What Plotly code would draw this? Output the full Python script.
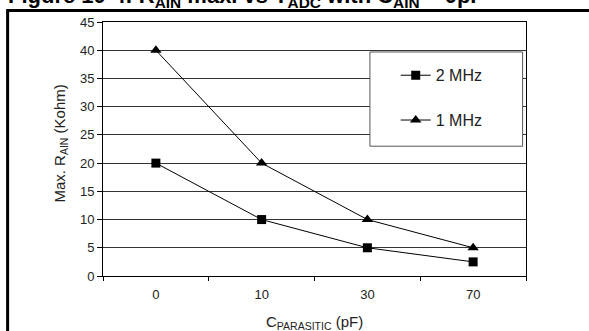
##########################################################
### Max. R_AIN vs parasitic capacitance (two ADC clocks) ###
##########################################################

import plotly.graph_objects as go

# === DATA ===
c_parasitic = ["0", "10", "30", "70"]
r_ain_2mhz = [20, 10, 5, 2.5]
r_ain_1mhz = [40, 20, 10, 5]
y_ticks = [0, 5, 10, 15, 20, 25, 30, 35, 40, 45]

FONT = "Liberation Sans, Arial, sans-serif"
TEXT_COLOR = "#222222"

fig = go.Figure()

fig.add_trace(go.Scatter(
    x=c_parasitic, y=r_ain_2mhz,
    mode="lines+markers", name="2 MHz",
    legendgroup="a",
    line=dict(color="black", width=1),
    marker=dict(symbol="square", size=9, color="black"),
))
fig.add_trace(go.Scatter(
    x=c_parasitic, y=r_ain_1mhz,
    mode="lines+markers", name="1 MHz",
    legendgroup="b",
    line=dict(color="black", width=1),
    marker=dict(symbol="triangle-up", size=10, color="black"),
))

# === Axes ===
fig.update_xaxes(
    type="category",
    range=[-0.5, 3.5],
    showline=True, linecolor="black", linewidth=1, mirror=True,
    ticks="outside", tickson="boundaries", ticklen=4, tickcolor="black",
    ticklabelstandoff=6,
    showgrid=False,
    tickfont=dict(family=FONT, size=13, color=TEXT_COLOR),
)
fig.update_yaxes(
    range=[0, 45],
    tickvals=y_ticks,
    showline=True, linecolor="black", linewidth=1, mirror=True,
    ticks="outside", ticklen=5, tickcolor="black",
    showgrid=True, gridcolor="#333333", gridwidth=1,
    zeroline=False,
    tickfont=dict(family=FONT, size=13, color=TEXT_COLOR),
)

# === Frame, legend box, titles ===
shapes = [
    # outer figure frame (runs off the right and bottom edges)
    dict(type="rect", xref="paper", yref="paper",
         x0=-0.2255, y0=-0.5, x1=1.6, y1=1.045,
         line=dict(color="black", width=3), layer="above"),
    # legend box
    dict(type="rect", xref="paper", yref="paper",
         x0=0.631, y0=0.511, x1=0.992, y1=0.882,
         line=dict(color="#555555", width=1), fillcolor="white", layer="above"),
]

annotations = [
    dict(text="Max. R<sub>AIN</sub> (Kohm)", xref="paper", yref="paper",
         x=-0.1, y=0.52, textangle=-90, showarrow=False,
         xanchor="center", yanchor="middle",
         font=dict(family=FONT, size=15, color=TEXT_COLOR)),
    dict(text="C<sub>PARASITIC</sub> (pF)", xref="paper", yref="paper",
         x=0.5, y=-0.185, showarrow=False,
         xanchor="center", yanchor="middle",
         font=dict(family=FONT, size=15, color=TEXT_COLOR)),
    dict(text="<b>Figure 10-4: R<sub>AIN</sub> max. vs T<sub>ADC</sub> with C<sub>AIN</sub> = 0pF</b>",
         xref="paper", yref="paper", x=-0.23, y=1.1, showarrow=False,
         xanchor="left", yanchor="middle",
         font=dict(family=FONT, size=22, color="black")),
]

fig.update_layout(
    width=589, height=331,
    margin=dict(l=103, r=63, t=22, b=55),
    plot_bgcolor="white", paper_bgcolor="white",
    showlegend=True,
    legend=dict(x=0.692, y=0.857, xanchor="left", yanchor="top",
                bgcolor="rgba(0,0,0,0)", borderwidth=0,
                tracegroupgap=21,
                font=dict(family=FONT, size=16, color=TEXT_COLOR)),
    shapes=shapes,
    annotations=annotations,
)

# page body margin would push the fixed-size figure off the window
fig.write_html("out.html", config={"displayModeBar": False},
               post_script="document.body.style.margin='0';")
